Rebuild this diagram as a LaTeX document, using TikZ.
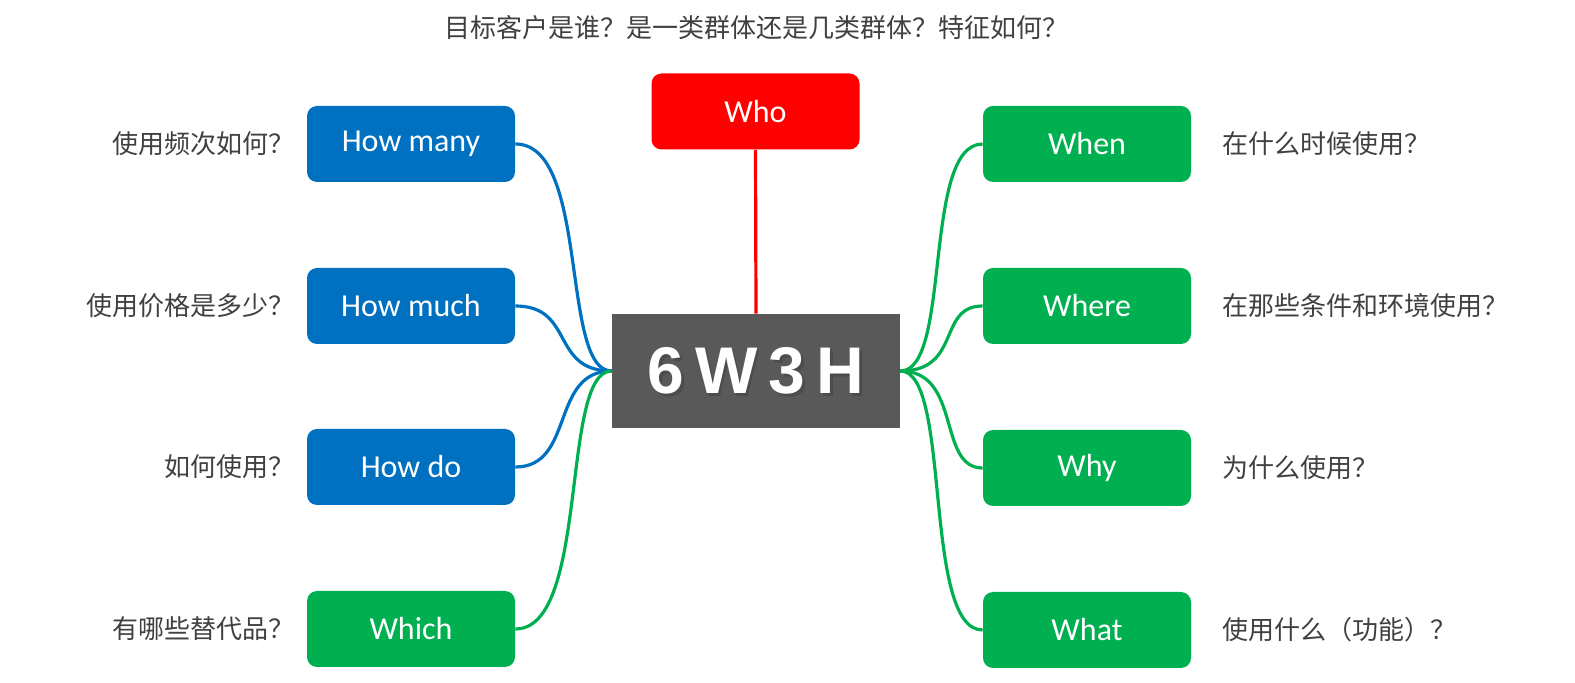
\documentclass[tikz,border=0pt]{standalone}
\usepackage{fontspec}
\setmainfont{Carlito}
\newfontfamily\cjk{Noto Sans CJK SC}
\newfontfamily\heavy{Liberation Sans}
\definecolor{cblue}{HTML}{0070C0}
\definecolor{cgreen}{HTML}{00B050}
\definecolor{cred}{HTML}{FF0000}
\definecolor{cgray}{HTML}{595959}
\definecolor{ctext}{HTML}{404040}
\begin{document}
\begin{tikzpicture}[x=0.5pt,y=-0.5pt,
  box/.style={rounded corners=5pt,minimum width=104pt,minimum height=38pt,text=white,font=\fontsize{16}{18}\selectfont,inner sep=0pt},
  lab/.style={text=ctext,font=\cjk\fontsize{13}{15}\selectfont,inner sep=0pt},
  conn/.style={line width=1.6pt}]
\useasboundingbox (0,0) rectangle (1575,683);
\node[fill=cgray,minimum width=144pt,minimum height=57pt,inner sep=0pt] (c) at (756,371) {};
\node[text=black!70,font=\heavy\bfseries\fontsize{33}{36}\selectfont] at (758.5,373.5) {6\,W\,3\,H};
\node[text=white,font=\heavy\bfseries\fontsize{33}{36}\selectfont] (ct) at (756,371) {6\,W\,3\,H};
\node[box,fill=cred] (who) at (755.5,111.5) {Who};
\node[box,fill=cblue] (hm) at (411,144) {How many};
\node[box,fill=cblue] (hu) at (411,306) {How much};
\node[box,fill=cblue] (hd) at (411,467) {How do};
\node[box,fill=cgreen] (wh) at (411,629) {Which};
\node[box,fill=cgreen] (wn) at (1087,144) {When};
\node[box,fill=cgreen] (we) at (1087,306) {Where};
\node[box,fill=cgreen] (wy) at (1087,468) {Why};
\node[box,fill=cgreen] (wt) at (1087,630) {What};
\draw[conn,cred] (who.south) -- (c.north);
\coordinate (L) at (c.west); \coordinate (R) at (c.east);
\draw[conn,cblue] (hm.east) .. controls (590,144) and (560,371) .. (L);
\draw[conn,cblue] (hu.east) .. controls (575,306) and (550,371) .. (L);
\draw[conn,cblue] (hd.east) .. controls (575,467) and (550,371) .. (L);
\draw[conn,cgreen] (wh.east) .. controls (590,629) and (560,371) .. (L);
\draw[conn,cgreen] (wn.west) .. controls (922,144) and (952,371) .. (R);
\draw[conn,cgreen] (we.west) .. controls (937,306) and (962,371) .. (R);
\draw[conn,cgreen] (wy.west) .. controls (937,468) and (962,371) .. (R);
\draw[conn,cgreen] (wt.west) .. controls (922,630) and (952,371) .. (R);
\node[lab] (t) at (756,28) {目标客户是谁？是一类群体还是几类群体？特征如何？};
\node[lab,anchor=east] (l1) at (295,144) {使用频次如何？};
\node[lab,anchor=east] (l2) at (295,306) {使用价格是多少？};
\node[lab,anchor=east] (l3) at (295,467) {如何使用？};
\node[lab,anchor=east] (l4) at (295,629) {有哪些替代品？};
\node[lab,anchor=west] (r1) at (1222,144) {在什么时候使用？};
\node[lab,anchor=west] (r2) at (1222,306) {在那些条件和环境使用？};
\node[lab,anchor=west] (r3) at (1222,468) {为什么使用？};
\node[lab,anchor=west] (r4) at (1222,630) {使用什么（功能）？};
\end{tikzpicture}
\end{document}
